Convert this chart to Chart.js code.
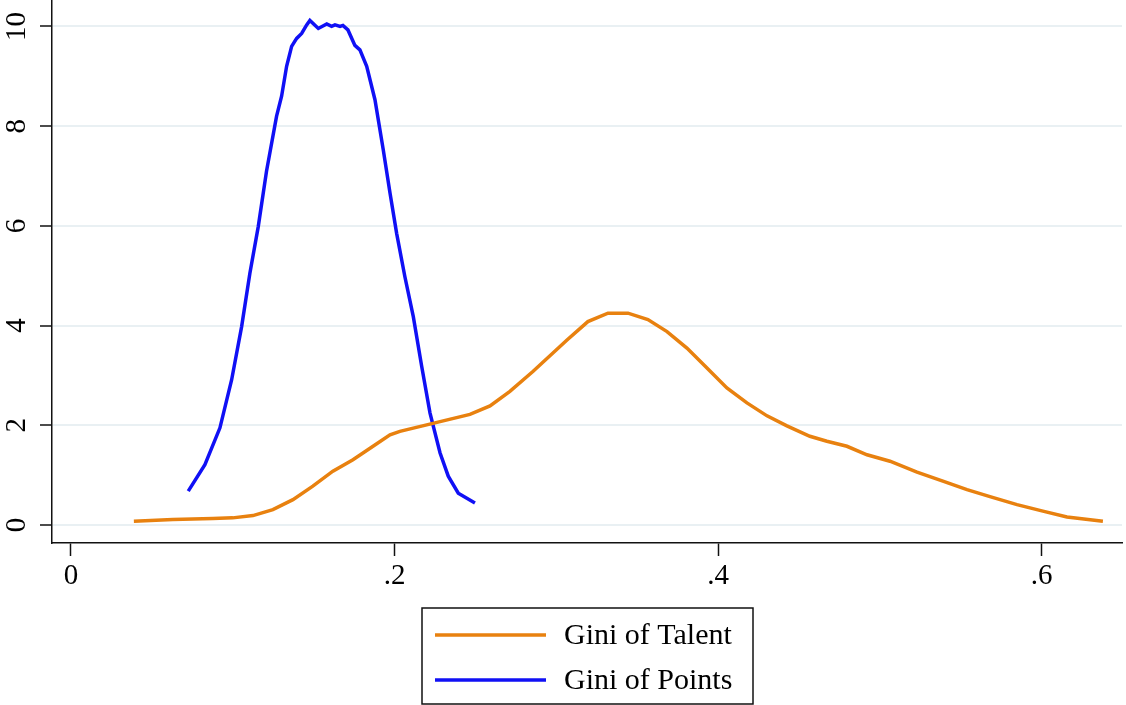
<!DOCTYPE html>
<html>
<head>
<meta charset="utf-8">
<script src="https://cdn.jsdelivr.net/npm/chart.js@4/dist/chart.umd.min.js"></script>
<style>
  html, body { margin: 0; padding: 0; background: #ffffff; }
  #wrap { width: 1126px; height: 705px; }
</style>
</head>
<body>
<div id="wrap"><canvas id="c" width="1126" height="705"></canvas></div>
<script>
// Kernel density of the Gini coefficient: talent vs. points
const seriesNames = ['Gini of Talent', 'Gini of Points'];
const seriesColors = ['#e8810f', '#1010f5'];

const talentGini = [0.0389, 0.063, 0.0877, 0.100, 0.1125, 0.1248, 0.1372, 0.1495, 0.1619, 0.1743,
  0.1867, 0.1972, 0.2033, 0.2237, 0.2466, 0.259, 0.2713, 0.2855, 0.3066, 0.3195,
  0.3319, 0.3443, 0.3566, 0.3684, 0.3807, 0.3931, 0.4054, 0.4178, 0.4302, 0.4425,
  0.4567, 0.4672, 0.4796, 0.492, 0.5062, 0.5229, 0.5389, 0.5538, 0.568, 0.5847,
  0.6007, 0.6156, 0.6378];
const talentDensity = [0.076, 0.11, 0.13, 0.144, 0.19, 0.31, 0.51, 0.78, 1.08, 1.31,
  1.58, 1.81, 1.88, 2.04, 2.22, 2.39, 2.68, 3.08, 3.71, 4.08,
  4.25, 4.25, 4.12, 3.88, 3.55, 3.15, 2.75, 2.45, 2.19, 1.99,
  1.78, 1.68, 1.58, 1.41, 1.28, 1.06, 0.88, 0.71, 0.57, 0.41,
  0.28, 0.16, 0.076];

const pointsGini = [0.0725, 0.0828, 0.0921, 0.0993, 0.1055, 0.1106, 0.1158, 0.1209, 0.1271, 0.1302,
  0.1333, 0.1364, 0.1395, 0.1426, 0.1457, 0.1477, 0.1529, 0.1581, 0.1611, 0.1632,
  0.1663, 0.1681, 0.1712, 0.1755, 0.1786, 0.1828, 0.1879, 0.193, 0.1972, 0.2013,
  0.2064, 0.2116, 0.2168, 0.2219, 0.2281, 0.2332, 0.2394, 0.2497];
const pointsDensity = [0.68, 1.21, 1.95, 2.91, 3.98, 5.05, 5.99, 7.1, 8.2, 8.6,
  9.2, 9.6, 9.76, 9.86, 10.03, 10.12, 9.96, 10.05, 10.0, 10.03,
  10.0, 10.02, 9.93, 9.62, 9.53, 9.2, 8.53, 7.53, 6.66, 5.85,
  4.98, 4.18, 3.18, 2.25, 1.45, 0.98, 0.64, 0.44];

const xTicks = [0, 0.2, 0.4, 0.6];
const xTickLabels = ['0', '.2', '.4', '.6'];
const yTicks = [0, 2, 4, 6, 8, 10];
const yTickLabels = ['0', '2', '4', '6', '8', '10'];

const toPoints = (xs, ys) => xs.map((x, i) => ({ x: x, y: ys[i] }));

const serif = "'Liberation Serif', 'DejaVu Serif', serif";

// Boxed legend below the plot, items stacked vertically
const boxedLegend = {
  id: 'boxedLegend',
  afterDraw(chart) {
    const ctx = chart.ctx;
    const box = { left: 422, top: 608, width: 331, height: 96 };
    ctx.save();
    ctx.strokeStyle = '#111111';
    ctx.lineWidth = 1.5;
    ctx.strokeRect(box.left, box.top, box.width, box.height);
    ctx.font = '30px ' + serif;
    ctx.textBaseline = 'middle';
    ctx.textAlign = 'left';
    chart.data.datasets.forEach((ds, i) => {
      const y = 635 + i * 45;
      ctx.strokeStyle = ds.borderColor;
      ctx.lineWidth = 3.5;
      ctx.beginPath();
      ctx.moveTo(435, y);
      ctx.lineTo(546, y);
      ctx.stroke();
      ctx.fillStyle = '#000000';
      ctx.fillText(ds.label, 564, y + 1);
    });
    ctx.restore();
  }
};

// Keep the plot frame flush with the canvas edges
const noEdgePadding = (s) => {
  s.paddingTop = 0;
  s.paddingBottom = 0;
  s.paddingLeft = 0;
  s.paddingRight = 0;
};

new Chart(document.getElementById('c'), {
  type: 'line',
  data: {
    datasets: [
      { label: seriesNames[0], data: toPoints(talentGini, talentDensity),
        borderColor: seriesColors[0], borderWidth: 3.5, pointRadius: 0, tension: 0, fill: false },
      { label: seriesNames[1], data: toPoints(pointsGini, pointsDensity),
        borderColor: seriesColors[1], borderWidth: 3.5, pointRadius: 0, tension: 0, fill: false }
    ]
  },
  options: {
    responsive: false,
    animation: false,
    layout: { padding: { top: 0, right: 4, bottom: 0, left: 0 } },
    plugins: { legend: { display: false }, tooltip: { enabled: false } },
    scales: {
      x: {
        type: 'linear',
        min: -0.0117,
        max: 0.6496,
        afterBuildTicks: (s) => { s.ticks = xTicks.map(v => ({ value: v })); },
        afterFit: (s) => { s.height = 162; noEdgePadding(s); },
        ticks: {
          callback: (v) => xTickLabels[xTicks.indexOf(v)],
          font: { family: serif, size: 29 },
          color: '#000000',
          padding: 3,
          maxRotation: 0,
          minRotation: 0,
          autoSkip: false
        },
        grid: { display: true, drawOnChartArea: false, drawTicks: true, tickLength: 13, tickColor: '#111111', tickWidth: 1.5 },
        border: { display: true, color: '#111111', width: 1.5 }
      },
      y: {
        type: 'linear',
        min: -0.36,
        max: 10.53,
        afterBuildTicks: (s) => { s.ticks = yTicks.map(v => ({ value: v })); },
        afterFit: (s) => { s.width = 52; noEdgePadding(s); },
        ticks: {
          callback: (v) => yTickLabels[yTicks.indexOf(v)],
          font: { family: serif, size: 29 },
          color: '#000000',
          padding: 8,
          minRotation: 90,
          maxRotation: 90,
          crossAlign: 'center',
          autoSkip: false
        },
        grid: { display: true, drawOnChartArea: true, color: '#e9f0f3', lineWidth: 2, drawTicks: true, tickLength: 12, tickColor: '#111111', tickWidth: 1.5 },
        border: { display: true, color: '#111111', width: 1.5 }
      }
    }
  },
  plugins: [boxedLegend]
});
</script>
</body>
</html>
